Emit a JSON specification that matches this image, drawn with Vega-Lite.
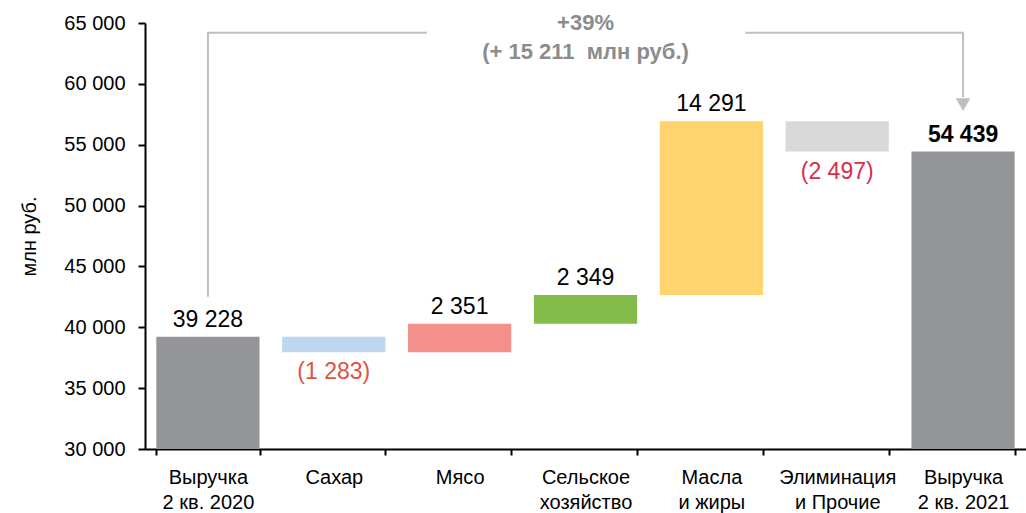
{
  "$schema": "https://vega.github.io/schema/vega-lite/v6.json",
  "width": 881,
  "height": 426,
  "autosize": {"type": "none"},
  "padding": {"left": 145, "top": 23, "right": 0, "bottom": 64},
  "background": "white",
  "config": {
    "view": {"stroke": null},
    "font": "Liberation Sans",
    "axis": {
      "grid": false,
      "domainColor": "black",
      "domainWidth": 2,
      "tickColor": "black",
      "tickWidth": 2,
      "labelColor": "black",
      "labelFont": "Liberation Sans",
      "titleFont": "Liberation Sans",
      "titleColor": "black",
      "titleFontWeight": "normal"
    }
  },
  "datasets": {
    "bars": [
      {"cat": "Выручка|2 кв. 2020", "lo": 0, "hi": 39228, "kind": "total", "label": "39 228"},
      {"cat": "Сахар", "lo": 37945, "hi": 39228, "kind": "neg", "label": "(1 283)"},
      {"cat": "Мясо", "lo": 37945, "hi": 40296, "kind": "pos", "label": "2 351"},
      {"cat": "Сельское|хозяйство", "lo": 40296, "hi": 42645, "kind": "pos", "label": "2 349"},
      {"cat": "Масла|и жиры", "lo": 42645, "hi": 56936, "kind": "pos", "label": "14 291"},
      {"cat": "Элиминация|и Прочие", "lo": 54439, "hi": 56936, "kind": "neg", "label": "(2 497)"},
      {"cat": "Выручка|2 кв. 2021", "lo": 0, "hi": 54439, "kind": "end", "label": "54 439"}
    ],
    "bracket": [
      {"seg": "a", "i": 1, "x": 0.5, "y": 42500},
      {"seg": "a", "i": 2, "x": 0.5, "y": 64200},
      {"seg": "a", "i": 3, "x": 2.24, "y": 64200},
      {"seg": "b", "i": 1, "x": 4.77, "y": 64200},
      {"seg": "b", "i": 2, "x": 6.5, "y": 64200},
      {"seg": "b", "i": 3, "x": 6.5, "y": 58900}
    ],
    "arrow": [
      {"x": 6.5, "y": 58300}
    ],
    "note": [
      {"x": 3.5, "y": 65000, "text": "+39%"},
      {"x": 3.5, "y": 62650, "text": "(+ 15 211\u00a0 млн руб.)"}
    ]
  },
  "resolve": {"scale": {"x": "independent"}},
  "layer": [
    {
      "data": {"name": "bars"},
      "encoding": {
        "x": {
          "field": "cat",
          "type": "nominal",
          "sort": null,
          "scale": {"paddingInner": 0.18, "paddingOuter": 0.09},
          "axis": {
            "title": null,
            "labelExpr": "split(datum.label, '|')",
            "labelFontSize": 20,
            "labelLineHeight": 25,
            "labelAngle": 0,
            "labelBaseline": "top",
            "labelLimit": 0,
            "tickBand": "extent",
            "tickSize": 6,
            "labelPadding": 12
          }
        }
      },
      "layer": [
        {
          "mark": {"type": "bar", "clip": true},
          "encoding": {
            "y": {
              "field": "lo",
              "type": "quantitative",
              "title": "млн руб.",
              "scale": {"domain": [30000, 65000], "nice": false, "zero": false},
              "axis": {
                "values": [30000, 35000, 40000, 45000, 50000, 55000, 60000, 65000],
                "labelExpr": "replace(format(datum.value, ','), ',', ' ')",
                "labelFontSize": 20,
                "tickSize": 7,
                "labelPadding": 13,
                "titleFontSize": 20,
                "titleX": -116,
                "titleY": 213,
                "titleAngle": -90,
                "titleAlign": "center",
                "titleBaseline": "middle"
              }
            },
            "y2": {"field": "hi"},
            "color": {
              "field": "cat",
              "type": "nominal",
              "legend": null,
              "scale": {
                "domain": ["Выручка|2 кв. 2020", "Сахар", "Мясо", "Сельское|хозяйство", "Масла|и жиры", "Элиминация|и Прочие", "Выручка|2 кв. 2021"],
                "range": ["#939598", "#BDD7EE", "#F4908B", "#84BC4B", "#FFD36E", "#D9D9D9", "#939598"]
              }
            }
          }
        },
        {
          "transform": [{"filter": "datum.kind === 'total' || datum.kind === 'pos'"}],
          "mark": {"type": "text", "fontSize": 23, "baseline": "alphabetic", "dy": -10, "color": "black"},
          "encoding": {
            "y": {"field": "hi", "type": "quantitative", "title": "млн руб."},
            "text": {"field": "label"}
          }
        },
        {
          "transform": [{"filter": "datum.kind === 'end'"}],
          "mark": {"type": "text", "fontSize": 23, "fontWeight": "bold", "baseline": "alphabetic", "dy": -10, "color": "black"},
          "encoding": {
            "y": {"field": "hi", "type": "quantitative", "title": "млн руб."},
            "text": {"field": "label"}
          }
        },
        {
          "transform": [{"filter": "datum.kind === 'neg'"}],
          "mark": {"type": "text", "fontSize": 23, "baseline": "alphabetic", "dy": 27},
          "encoding": {
            "y": {"field": "lo", "type": "quantitative", "title": "млн руб."},
            "text": {"field": "label"},
            "color": {"condition": {"test": "datum.cat === 'Сахар'", "value": "#E0533E"}, "value": "#D42F4A"}
          }
        }
      ]
    },
    {
      "layer": [
        {
          "data": {"name": "bracket"},
          "mark": {"type": "line", "color": "#BFBFBF", "strokeWidth": 2, "clip": false},
          "encoding": {
            "x": {"field": "x", "type": "quantitative", "scale": {"domain": [0, 7], "nice": false, "zero": false}, "axis": null},
            "y": {"field": "y", "type": "quantitative", "title": "млн руб."},
            "order": {"field": "i"},
            "detail": {"field": "seg"}
          }
        },
        {
          "data": {"name": "arrow"},
          "mark": {"type": "point", "shape": "triangle-down", "filled": true, "color": "#BFBFBF", "size": 220, "opacity": 1},
          "encoding": {
            "x": {"field": "x", "type": "quantitative", "axis": null},
            "y": {"field": "y", "type": "quantitative", "title": "млн руб."}
          }
        },
        {
          "data": {"name": "note"},
          "mark": {"type": "text", "fontSize": 22, "fontWeight": "bold", "color": "#8C8C8C", "baseline": "middle"},
          "encoding": {
            "x": {"field": "x", "type": "quantitative", "axis": null},
            "y": {"field": "y", "type": "quantitative", "title": "млн руб."},
            "text": {"field": "text"}
          }
        }
      ]
    }
  ]
}
